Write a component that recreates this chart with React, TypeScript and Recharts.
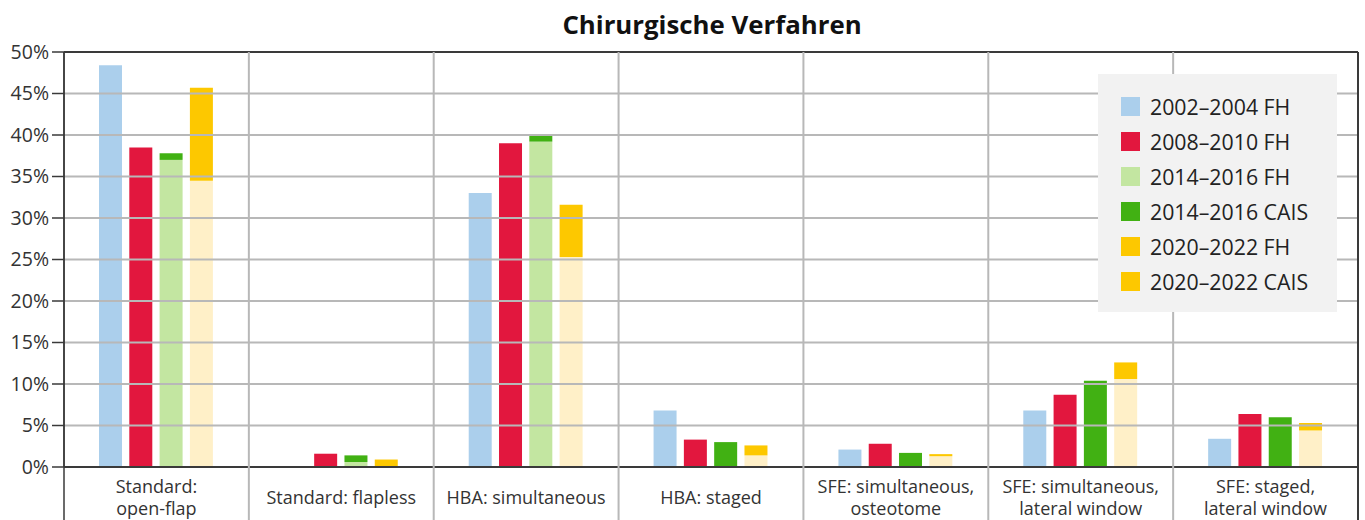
import React from "react";
import { BarChart, Bar, XAxis, YAxis, ReferenceLine } from "recharts";

const categories = [
  "Standard:\nopen-flap",
  "Standard: flapless",
  "HBA: simultaneous",
  "HBA: staged",
  "SFE: simultaneous,\nosteotome",
  "SFE: simultaneous,\nlateral window",
  "SFE: staged,\nlateral window",
];
const fh2002 = [48.4, 0, 33.0, 6.8, 2.1, 6.8, 3.4];
const fh2008 = [38.5, 1.6, 39.0, 3.3, 2.8, 8.7, 6.4];
const fh2014 = [37.0, 0.6, 39.2, 0, 0, 0, 0];
const cais2014 = [0.8, 0.8, 0.7, 3.0, 1.7, 10.4, 6.0];
const fh2020 = [34.5, 0, 25.3, 1.4, 1.3, 10.6, 4.4];
const cais2020 = [11.2, 0.9, 6.3, 1.2, 0.25, 2.0, 0.9];

const yTicks = [0, 5, 10, 15, 20, 25, 30, 35, 40, 45, 50];
const gridValues = [5, 10, 15, 20, 25, 30, 35, 40, 45];

const legendLabels = [
  "2002–2004 FH",
  "2008–2010 FH",
  "2014–2016 FH",
  "2014–2016 CAIS",
  "2020–2022 FH",
  "2020–2022 CAIS",
];
const legendColors = ["#ABCFEC", "#E2173E", "#C3E6A1", "#41B113", "#FDC800", "#FDC800"];

const C_BLUE = "#ABCFEC";
const C_RED = "#E2173E";
const C_LGREEN = "#C3E6A1";
const C_GREEN = "#41B113";
const C_LYELLOW = "#FFF0C8";
const C_YELLOW = "#FDC800";

const W = 1365;
const H = 520;
const TOP = 52;
const AXIS = "#3a3a3a";
const GRID = "#b8b8b8";
const FONT = "'Open Sans', 'Noto Sans', sans-serif";

const data = categories.map((name, i) => ({
  name,
  fh2002: fh2002[i],
  fh2008: fh2008[i],
  fh2014: fh2014[i],
  cais2014: cais2014[i],
  fh2020: fh2020[i],
  cais2020: cais2020[i],
}));

const XTick = (props: any) => {
  const { x, y, payload, index } = props;
  const half = payload && payload.offset ? payload.offset : (W - 64 - 7) / categories.length / 2;
  const lines = String(payload.value).split("\n");
  const base = y + 37 - (lines.length - 1) * 11;
  const isLast = index === categories.length - 1;
  return (
    <g>
      <line
        x1={x - half}
        x2={x - half}
        y1={TOP}
        y2={H}
        stroke={index === 0 ? AXIS : GRID}
        strokeWidth={index === 0 ? 1.5 : 2}
      />
      {isLast && (
        <line x1={x + half} x2={x + half} y1={TOP} y2={H} stroke={AXIS} strokeWidth={2} />
      )}
      <text textAnchor="middle" fill="#333" fontSize={18} fontFamily={FONT}>
        {lines.map((l, k) => (
          <tspan key={k} x={x} y={base + k * 22}>
            {l}
          </tspan>
        ))}
      </text>
    </g>
  );
};

export default function App() {
  return (
    <div style={{ position: "absolute", left: 0, top: 0, width: W, height: H, fontFamily: FONT, background: "#fff" }}>
      <div
        style={{
          position: "absolute",
          left: 0,
          top: 7,
          width: 1424,
          textAlign: "center",
          fontWeight: 700,
          fontSize: 25.8,
          color: "#111",
          lineHeight: "34px",
        }}
      >
        Chirurgische Verfahren
      </div>
      <BarChart
        width={W}
        height={H}
        data={data}
        margin={{ top: TOP, right: 7, bottom: 0, left: 0 }}
        barSize={23}
        barGap={7.3}
      >
        <XAxis
          dataKey="name"
          interval={0}
          tickLine={false}
          tickSize={0}
          tickMargin={0}
          height={53}
          axisLine={{ stroke: AXIS, strokeWidth: 2 }}
          tick={<XTick />}
        />
        <YAxis
          domain={[0, 50]}
          ticks={yTicks}
          interval={0}
          width={64}
          tickSize={12}
          tickMargin={3}
          tickFormatter={(v: number) => `${v}%`}
          axisLine={{ stroke: AXIS, strokeWidth: 1.5 }}
          tickLine={{ stroke: AXIS, strokeWidth: 1.5 }}
          tick={{ fill: "#333", fontSize: 19.5, fontFamily: FONT }}
        />
        <Bar dataKey="fh2002" stackId="a" fill={C_BLUE} isAnimationActive={false} />
        <Bar dataKey="fh2008" stackId="b" fill={C_RED} isAnimationActive={false} />
        <Bar dataKey="fh2014" stackId="g" fill={C_LGREEN} isAnimationActive={false} />
        <Bar dataKey="cais2014" stackId="g" fill={C_GREEN} isAnimationActive={false} />
        <Bar dataKey="fh2020" stackId="y" fill={C_LYELLOW} isAnimationActive={false} />
        <Bar dataKey="cais2020" stackId="y" fill={C_YELLOW} isAnimationActive={false} />
        {gridValues.map((v) => (
          <ReferenceLine key={v} y={v} stroke={GRID} strokeWidth={2} ifOverflow="visible" />
        ))}
        <ReferenceLine y={50} stroke={AXIS} strokeWidth={2} />
      </BarChart>
      <div
        style={{
          position: "absolute",
          left: 1098,
          top: 74,
          width: 239,
          height: 238,
          background: "#f2f2f2",
        }}
      >
        {legendLabels.map((l, i) => (
          <div
            key={l}
            style={{
              position: "absolute",
              left: 23,
              top: 23 + i * 35,
              height: 19,
              display: "flex",
              alignItems: "center",
              whiteSpace: "nowrap",
            }}
          >
            <div style={{ width: 19, height: 19, background: legendColors[i], marginRight: 10 }} />
            <span style={{ fontSize: 21.3, color: "#222", lineHeight: "19px" }}>{l}</span>
          </div>
        ))}
      </div>
    </div>
  );
}
